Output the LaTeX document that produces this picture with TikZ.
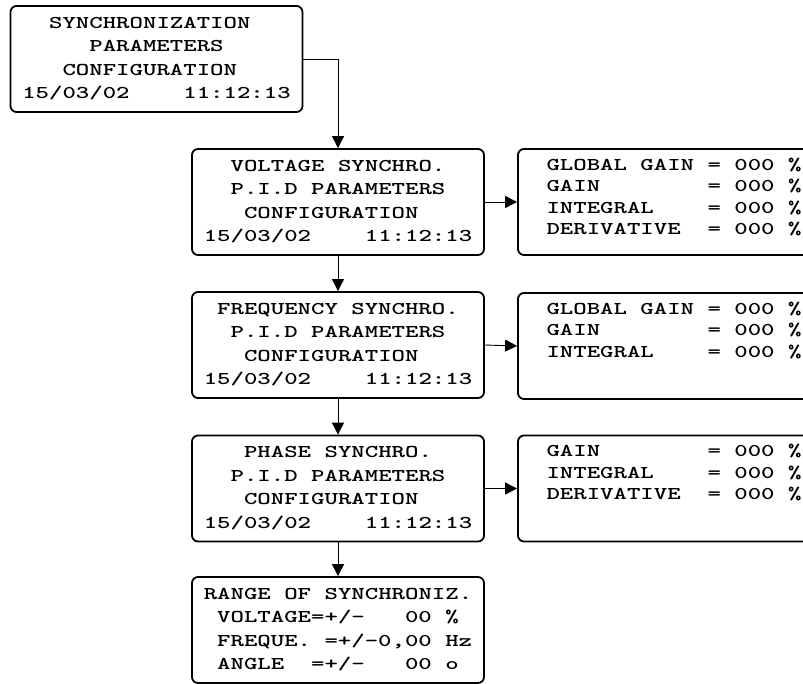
\documentclass[tikz,border=0pt]{standalone}
\usepackage{graphicx}
\usetikzlibrary{arrows.meta}

% display text: wide typewriter letters on a 20 column grid
\newcommand\lcdfont{\fontsize{18pt}{23.5pt}\selectfont\ttfamily\bfseries}
\newcommand\valfont{\fontsize{18pt}{21.5pt}\selectfont\ttfamily\bfseries}
\newcommand\lcd[1]{\scalebox{1.42}[1]{\begin{tabular}{@{}l@{}}#1\end{tabular}}}

\tikzset{
    lcdbox/.style={draw, line width=1.8pt, rounded corners=6pt, minimum width=292pt, minimum height=106pt, inner sep=0pt, font=\lcdfont},
    valbox/.style={lcdbox, minimum width=312pt, font=\valfont},
    flowline/.style={-{Triangle[length=12pt, width=12pt]}, line width=0.9pt}
}

\begin{document}
\begin{tikzpicture}[x=1pt, y=-1pt]
    \useasboundingbox (0,0) rectangle (803,683);
    \clip (0,0) rectangle (803,683);
    % menu screens
    \node[lcdbox] (sync) at (156.5,59) {\lcd{~~SYNCHRONIZATION\\~~~~~PARAMETERS\\~~~CONFIGURATION\\15/03/02~~~~11:12:13}};
    \node[lcdbox] (volt) at (338,202) {\lcd{~~VOLTAGE SYNCHRO.\\~~P.I.D PARAMETERS\\~~~CONFIGURATION\\15/03/02~~~~11:12:13}};
    \node[lcdbox] (freq) at (338,345) {\lcd{~FREQUENCY SYNCHRO.\\~~P.I.D PARAMETERS\\~~~CONFIGURATION\\15/03/02~~~~11:12:13}};
    \node[lcdbox] (phase) at (338,488.5) {\lcd{~~~PHASE SYNCHRO.\\~~P.I.D PARAMETERS\\~~~CONFIGURATION\\15/03/02~~~~11:12:13}};
    \node[lcdbox] (range) at (338,630) {\lcd{RANGE OF SYNCHRONIZ.\\~VOLTAGE=+/-~~~00~\%\\~FREQUE.~=+/-0,00~Hz\\~ANGLE~~=+/-~~~00~o}};
    % parameter screens, text kept near the top edge
    \node[valbox] (voltpid) at (674,202) {\lcd{GLOBAL GAIN = 000 \%\\GAIN~~~~~~~~= 000 \%\\INTEGRAL~~~~= 000 \%\\DERIVATIVE~~= 000 \%\\[8pt]}};
    \node[valbox] (freqpid) at (674,346) {\lcd{GLOBAL GAIN = 000 \%\\GAIN~~~~~~~~= 000 \%\\INTEGRAL~~~~= 000 \%\\~\\[8pt]}};
    \node[valbox] (phasepid) at (674,488.5) {\lcd{GAIN~~~~~~~~= 000 \%\\INTEGRAL~~~~= 000 \%\\DERIVATIVE~~= 000 \%\\~\\[8pt]}};
    % links
    \draw[flowline] (sync.east) -| (volt.north);
    \foreach \a/\b in {volt/freq, freq/phase, phase/range}
        \draw[flowline] (\a.south) -- (\b.north);
    \foreach \a/\b in {volt/voltpid, freq/freqpid, phase/phasepid}
        \draw[flowline] (\a.east) -- (\b.west);
\end{tikzpicture}
\end{document}
